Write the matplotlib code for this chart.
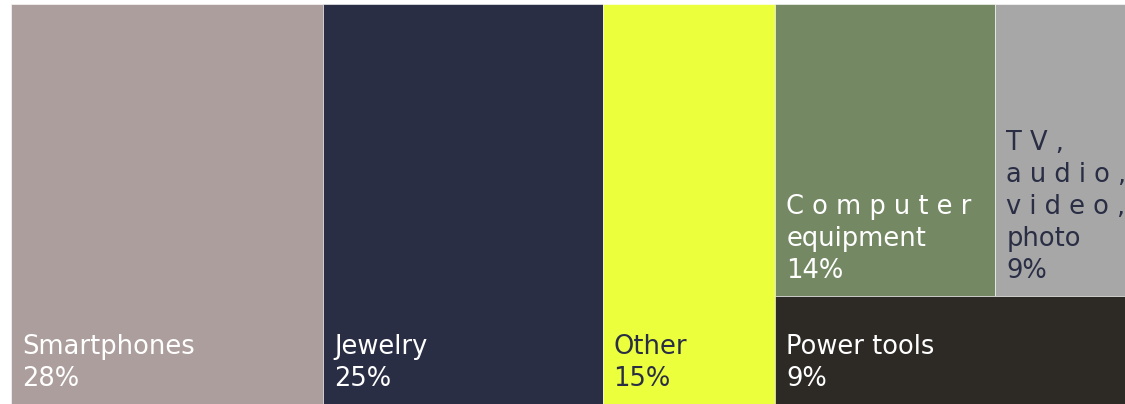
import matplotlib.pyplot as plt
from matplotlib.patches import Rectangle

# 各品类占比（按图中面积估算）与显示标签
names = ["Smartphones", "Jewelry", "Other", "C o m p u t e r\nequipment", "T V ,\na u d i o ,\nv i d e o ,\nphoto", "Power tools"]
shares = [28.0, 25.1, 15.5, 14.4, 8.5, 8.5]
pct_labels = ["28%", "25%", "15%", "14%", "9%", "9%"]
colors = ["#ac9e9c", "#2a2e45", "#ebff3c", "#748963", "#a7a7a7", "#2d2a26"]
text_colors = ["white", "white", "#2a2e45", "white", "#2a2e45", "white"]

fig = plt.figure(figsize=(11.25, 4.04), dpi=100)
ax = fig.add_axes([11 / 1125, 0, 1114 / 1125, 400 / 404])
ax.set_xlim(0, 100)
ax.set_ylim(0, 1)
ax.axis("off")

# 布局：前三块整列，后三块放在最后一列（上面两块并排，下面一块）
rects = []
x = 0.0
for s in shares[:3]:
    rects.append((x, 0.0, s, 1.0))
    x += s
col_w = sum(shares[3:])
bottom_h = shares[5] / col_w
top_h = 1 - bottom_h
w_comp = shares[3] / top_h
w_tv = shares[4] / top_h
rects.append((x, bottom_h, w_comp, top_h))
rects.append((x + w_comp, bottom_h, w_tv, top_h))
rects.append((x, 0.0, col_w, bottom_h))

pad_x = 100 * 11 / 1114
for (rx, ry, rw, rh), name, pct, c, tc in zip(rects, names, pct_labels, colors, text_colors):
    ax.add_patch(Rectangle((rx, ry), rw, rh, facecolor=c, edgecolor="white", linewidth=0.4))
    ax.text(rx + pad_x, ry + 12 / 400, f"{name}\n{pct}", color=tc, fontsize=18.5,
            ha="left", va="bottom", linespacing=1.3, family="DejaVu Sans")

fig.savefig("out.png", dpi=100)
